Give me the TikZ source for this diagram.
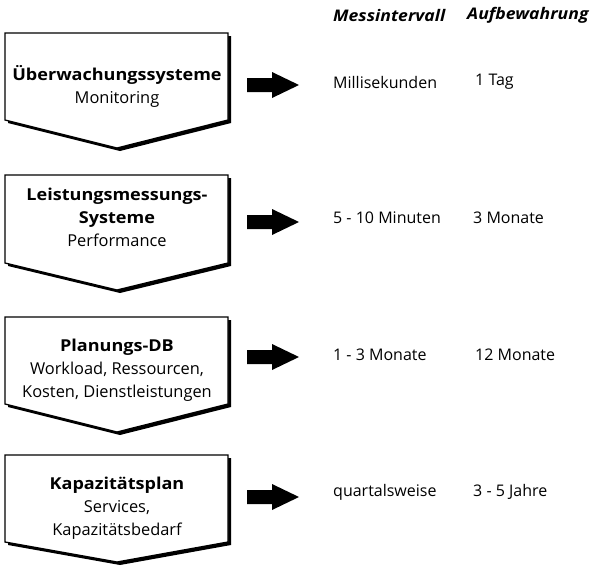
\documentclass[tikz,border=0pt]{standalone}
\usepackage{fontspec}
\setmainfont{Open Sans}[BoldFeatures={FakeStretch=1.1},BoldItalicFeatures={FakeStretch=1.1}]
\begin{document}
\begin{tikzpicture}[x=1pt,y=-1pt,
  txt/.style={font=\fontsize{16}{19}\selectfont, inner sep=0pt, anchor=west},
  head/.style={font=\fontsize{16}{19}\selectfont\bfseries\itshape, inner sep=0pt, anchor=west},
  boxtxt/.style={font=\fontsize{16.4}{23}\selectfont, align=center, inner sep=0pt},
  blockarrow/.style={fill=black, draw=none},
  shadowshape/.style={fill=black, draw=none},
  boxshape/.style={fill=white, draw=black, line width=1.3pt, line join=miter}]
\useasboundingbox (0,0) rectangle (616,573);

% pentagon step boxes with drop shadow: top, side bottom, tip
\foreach \t/\s/\p in {33/120/148, 175/263/290, 317/404/432, 455/542/562}{
  \fill[shadowshape] (8,\t+3) -- (231,\t+3) -- (231,\s+3) -- (120,\p+3) -- (8,\s+3) -- cycle;
  \draw[boxshape] (5,\t) -- (228,\t) -- (228,\s) -- (117,\p) -- (5,\s) -- cycle;
}

\node[boxtxt] (b1) at (117,86) {\textbf{Überwachungssysteme}\\Monitoring};
\node[boxtxt] (b2) at (117,217) {\textbf{Leistungsmessungs-}\\\textbf{Systeme}\\Performance};
\node[boxtxt] (b3) at (117,370) {\textbf{Planungs-DB}\\Workload, Ressourcen,\\Kosten, Dienstleistungen};
\node[boxtxt] (b4) at (117,508) {\textbf{Kapazitätsplan}\\Services,\\Kapazitätsbedarf};

% block arrows pointing to the table rows
\foreach \c in {85, 222, 357, 497}{
  \fill[blockarrow] (247,\c-7) -- (272,\c-7) -- (272,\c-13) -- (299,\c) -- (272,\c+13) -- (272,\c+7) -- (247,\c+7) -- cycle;
}

% column headers
\node[head] (h1) at (333,15) {Messintervall};
\node[head] (h2) at (467,15) {Aufbewahrung};

% table rows
\node[txt] (m1) at (333,82) {Millisekunden};
\node[txt] (a1) at (475,82) {1 Tag};
\node[txt] (m2) at (333,218) {5 - 10 Minuten};
\node[txt] (a2) at (473,218) {3 Monate};
\node[txt] (m3) at (333,355) {1 - 3 Monate};
\node[txt] (a3) at (475,355) {12 Monate};
\node[txt] (m4) at (333,492) {quartalsweise};
\node[txt] (a4) at (473,492) {3 - 5 Jahre};
\end{tikzpicture}
\end{document}
